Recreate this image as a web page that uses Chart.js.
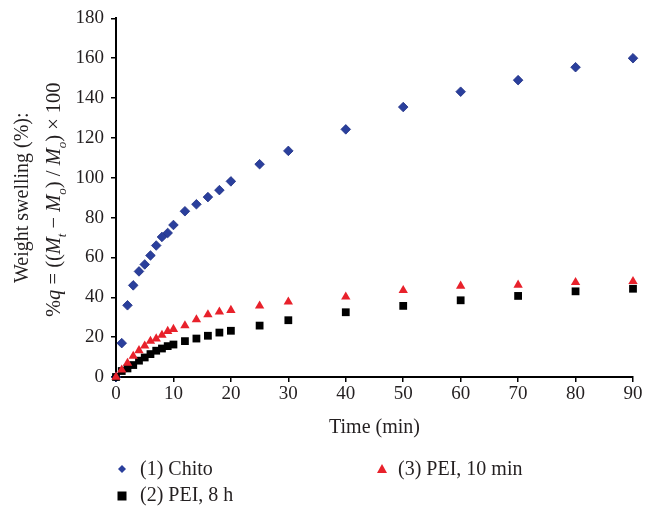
<!DOCTYPE html>
<html>
<head>
<meta charset="utf-8">
<script src="https://cdn.jsdelivr.net/npm/chart.js@4/dist/chart.umd.min.js"></script>
<style>
  html, body { margin: 0; padding: 0; background: #fff; }
  #wrap { width: 654px; height: 514px; }
</style>
</head>
<body>
<div id="wrap"><canvas id="chart" width="654" height="514"></canvas></div>
<script>
// time points (min)
const timeMin = [0, 1, 2, 3, 4, 5, 6, 7, 8, 9, 10, 12, 14, 16, 18, 20, 25, 30, 40, 50, 60, 70, 80, 90];
// weight swelling (%)
const chito = [0, 17, 36, 46, 53, 56.5, 61, 66, 70.3, 72.3, 76.3, 83.2, 86.7, 90.3, 93.8, 98.2, 106.8, 113.5, 124.3, 135.5, 143.2, 149, 155.5, 160];
const pei8h = [0, 3, 4.3, 6, 8.2, 9.8, 11.5, 13.2, 14.3, 15.5, 16.3, 18, 19.3, 20.7, 22.3, 23.2, 25.8, 28.5, 32.5, 35.7, 38.5, 40.7, 43, 44.3];
const pei10min = [0, 3.6, 7, 10.5, 13.3, 15.6, 18, 19.2, 21, 23, 24, 25.8, 28.8, 31.3, 32.7, 33.5, 35.7, 37.7, 40.2, 43.5, 45.7, 46.2, 47.5, 48];

const seriesNames = ['(1) Chito', '(2) PEI, 8 h', '(3) PEI, 10 min'];
const xTitle = 'Time (min)';
const yTitleLine1 = 'Weight swelling (%):';

const FONT = '"Liberation Serif", "DejaVu Serif", serif';
const TEXT = '#231f20';
const BLUE = '#2a3f9c';
const RED = '#e8212b';
const BLACK = '#000000';

function toPoints(ys) {
    return timeMin.map((t, i) => ({ x: t, y: ys[i] }));
}

// rich text runs: [text, italic, subscript]
const yTitleLine2 = [
    ['%', false, false], ['q', true, false], [' = ((', false, false],
    ['M', true, false], ['t', true, true], [' \u2212 ', false, false],
    ['M', true, false], ['o', true, true], [') / ', false, false],
    ['M', true, false], ['o', true, true], [') \u00d7 100', false, false]
];

function runFont(run, size) {
    const s = run[2] ? Math.round(size * 0.65) : size;
    return (run[1] ? 'italic ' : '') + s + 'px ' + FONT;
}

function drawRich(ctx, runs, cx, cy, size) {
    ctx.save();
    ctx.translate(cx, cy);
    ctx.rotate(-Math.PI / 2);
    ctx.fillStyle = TEXT;
    ctx.textBaseline = 'alphabetic';
    ctx.textAlign = 'left';
    let total = 0;
    runs.forEach(r => { ctx.font = runFont(r, size); total += ctx.measureText(r[0]).width; });
    let x = -total / 2;
    runs.forEach(r => {
        ctx.font = runFont(r, size);
        ctx.fillText(r[0], x, r[2] ? size * 0.28 : 0);
        x += ctx.measureText(r[0]).width;
    });
    ctx.restore();
}

function marker(ctx, style, x, y, r, color) {
    ctx.fillStyle = color;
    ctx.beginPath();
    if (style === 'diamond') {
        ctx.moveTo(x, y - r); ctx.lineTo(x + r, y); ctx.lineTo(x, y + r); ctx.lineTo(x - r, y);
    } else if (style === 'square') {
        ctx.rect(x - r, y - r, 2 * r, 2 * r);
    } else {
        ctx.moveTo(x, y - r); ctx.lineTo(x + r, y + r * 0.8); ctx.lineTo(x - r, y + r * 0.8);
    }
    ctx.closePath();
    ctx.fill();
}

const annotations = {
    id: 'annotations',
    afterDraw(chart) {
        const ctx = chart.ctx;
        const area = chart.chartArea;
        const midY = (area.top + area.bottom) / 2;
        // y title, two lines
        drawRich(ctx, [[yTitleLine1, false, false]], 28, midY, 20);
        drawRich(ctx, yTitleLine2, 60, midY + 2, 20.5);
        // x title
        ctx.save();
        ctx.fillStyle = TEXT;
        ctx.font = '20px ' + FONT;
        ctx.textAlign = 'center';
        ctx.textBaseline = 'alphabetic';
        ctx.fillText(xTitle, (area.left + area.right) / 2, area.bottom + 56);
        // legend
        ctx.font = '20px ' + FONT;
        ctx.textAlign = 'left';
        const lx1 = area.left + 6, lx2 = area.left + 266;
        const row1 = area.bottom + 98, row2 = area.bottom + 124;
        marker(ctx, 'diamond', lx1, row1 - 6, 4, BLUE);
        ctx.fillStyle = TEXT;
        ctx.fillText(seriesNames[0], lx1 + 18, row1);
        marker(ctx, 'triangle', lx2, row1 - 6, 5, RED);
        ctx.fillStyle = TEXT;
        ctx.fillText(seriesNames[2], lx2 + 16, row1);
        marker(ctx, 'square', lx1, row2 - 5, 4.5, BLACK);
        ctx.fillStyle = TEXT;
        ctx.fillText(seriesNames[1], lx1 + 18, row2);
        ctx.restore();
    }
};

const ctx = document.getElementById('chart').getContext('2d');
new Chart(ctx, {
    type: 'scatter',
    data: {
        datasets: [{
            label: seriesNames[0],
            data: toPoints(chito),
            pointStyle: 'rectRot',
            pointRadius: 4.8,
            backgroundColor: BLUE,
            borderColor: '#1e2f85',
            borderWidth: 0.8,
            order: 2,
            clip: false
        }, {
            label: seriesNames[1],
            data: toPoints(pei8h),
            pointStyle: 'rect',
            pointRadius: 5.5,
            backgroundColor: BLACK,
            borderColor: BLACK,
            borderWidth: 0,
            order: 1,
            clip: false
        }, {
            label: seriesNames[2],
            data: toPoints(pei10min),
            pointStyle: 'triangle',
            pointRadius: 5.4,
            backgroundColor: RED,
            borderColor: RED,
            borderWidth: 0,
            order: 0,
            clip: false
        }]
    },
    options: {
        responsive: false,
        devicePixelRatio: 1,
        animation: false,
        layout: { padding: { top: 17, right: 21, left: 0, bottom: 77 } },
        plugins: {
            legend: { display: false },
            tooltip: { enabled: false }
        },
        scales: {
            x: {
                type: 'linear',
                min: 0,
                max: 90,
                afterFit: s => { s.height = 60; },
                ticks: { stepSize: 10, padding: 1, color: TEXT, font: { family: FONT, size: 19 } },
                grid: { drawOnChartArea: false, drawTicks: true, tickLength: 5, color: BLACK, lineWidth: 1.5 },
                border: { display: true, color: BLACK, width: 2 }
            },
            y: {
                min: 0,
                max: 180,
                afterFit: s => { s.width = 116; },
                ticks: { stepSize: 20, padding: 7, color: TEXT, font: { family: FONT, size: 19 } },
                grid: { drawOnChartArea: false, drawTicks: true, tickLength: 5, color: BLACK, lineWidth: 1.5 },
                border: { display: true, color: BLACK, width: 2 }
            }
        }
    },
    plugins: [annotations]
});
</script>
</body>
</html>
